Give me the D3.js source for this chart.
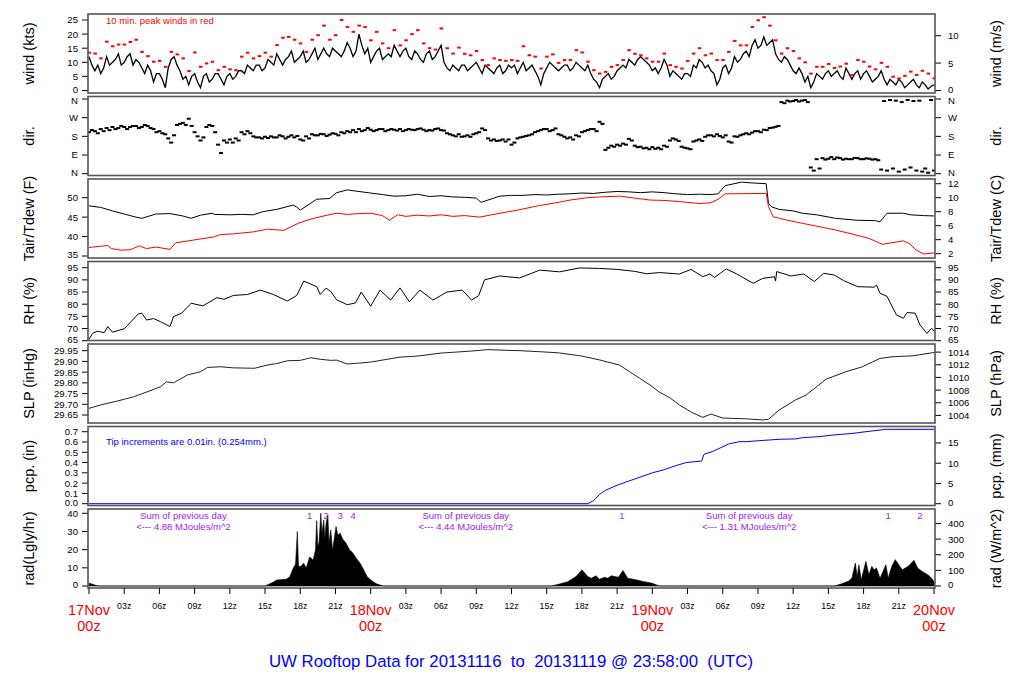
<!DOCTYPE html>
<html><head><meta charset="utf-8">
<script src="https://cdn.jsdelivr.net/npm/d3@7"></script>
<style>body{margin:0;background:#fff} text{font-family:"Liberation Sans",Arial,Helvetica,sans-serif}</style>
</head><body><svg id="c" width="1024" height="700"></svg>
<script>
// ---------- DATA (hours since 17Nov 00z) ----------
const windStep = 0.5; // hours between wind / direction samples
const windKts = [12,7,6,12,10,13,10,13,11,8, 9,3,6,1,11,9,4,2,6,1, 6,4,6,2,6,5,7,9,7,9, 8,10,13,9,12,10,12,10,13,11, 15,12,14,12,17,12,20,13,10,
 14,11,13,16,12,15,11,13,10,14, 12,16,8,9,7,9,8,10,6,8, 6,9,7,8,6,10,8,7,2,8, 9,7,9,7,10,8,9,4,1,5, 4,7,9,11,9,12,10,7,
 6,11,5,6,4,6,9,11,8,7, 2,8,6,12,11,14,16,15,19,17, 13,10,11,7,8,3,1,6,4,7, 6,5,8,4,7,6,5,4,7,2, 3,4,1,3,2,3,0.5,2];
// wind samples in between (at +15 min)
const windKtsMid = [9,9,8,9,11,9,12,9,10,6, 7,6,4,8,12,7,5,5,3,5, 3,6,4,5,4,7,6,8,9,7, 11,9,11,11,14,11,14,11,15,13, 13,15,13,14,15,14,16,15,
 12,15,12,12,14,14,12,14,11,13, 11,14,10,7,8,9,7,9,8,9, 7,8,6,9,9,8,7,9,5,6, 10,8,8,9,8,9,7,6,3,4, 6,5,8,8,10,11,11,9,
 8,8,9,7,5,6,5,8,10,9,6, 4,9,8,10,13,12,18,16,16,18, 11,12,9,6,6,5,3,5,6,5, 7,4,6,6,4,7,3,5,4,4, 2,3,2,4,1,2,1.5];
const peakKts = [13.4,13.1,11.4,17.3,15.7,16.3,16.3,17.2,18,13.7, 12.2,10.2,10.5,8.4,13.7,12.8,11.4,6.9,13.5,8.4, 9.6,10.2,7.2,8.4,7.5,7.2,12,13.4,11.4,12.2, 13.4,12,16.1,18.7,19,18,16.7,13.7,18,19.6, 23,18,19.6,25,22.5,20.8,23,22.5,17.8,
 20.8,16.7,15,21.4,16,17.8,20,21.4,16.7,15, 14.5,22,15,13.1,15.2,13,12.5,14,10.8,9, 11.4,10.8,10.5,10.8,10.5,15.7,12.5,12,7.8,12, 12.8,9.8,10.8,10.8,14.3,13.5,10.2,7.2,6,6.6, 8.4,9,10.8,14.3,13,12.5,11.4,10.2,
 10.2,13.1,9,8.4,7.8,10.5,13.1,15,12.5,13.1, 10.8,10.8,13.7,17.6,16,16,22.5,24.9,26,23, 17.8,13.1,15,14,11.4,10,6,8.4,8.4,9.4, 8,8.5,9.5,5.5,10.8,10.2,8.5,7.5,9.8,8.4, 4.9,4.3,5.2,6.7,5.5,7,6,4.3];
const dirA = [200,205,215,220,225,220,225,225,230,225, 230,215,205,190,150,235,245,265,200,160, 225,230,140,160,165,170,200,205,180,175, 178,180,175,180,178,175,165,180,190,185, 190,188,192,200,205,210,215,210,212,
 210,215,210,212,215,210,212,215,212,210, 215,210,195,185,190,180,178,195,218,170, 165,160,155,140,170,178,185,200,210,215, 210,190,178,175,185,200,210,215,250,115, 135,140,145,168,135,130,125,128,
 125,135,160,165,130,122,155,165,178,185, 190,175,155,180,185,195,198,205,212,220, 226,345,352,350,348,355,30,70,75,72, 70,75,72,70,75,70,72,70,20,15, 25,10,20,30,15,10,5,15];
const dirB = [210,195,205,210,215,230,215,230,220,235, 220,200,195,170,185,240,235,230,180,175, 235,200,100,150,150,160,190,195,175,170, 172,175,185,170,185,182,160,170,185,192, 182,195,185,195,200,200,205,220,205,
 215,205,215,208,205,215,210,218,205,208, 218,208,190,180,178,185,190,200,210,160, 158,165,165,150,175,182,190,205,215,205, 218,185,170,165,180,205,215,205,240,125, 130,135,140,160,128,122,118,120,
 118,130,170,158,125,118,160,158,185,180, 182,185,150,178,190,190,205,200,210,222, 230,340,348,355,352,345,15,25,68,80, 78,68,70,76,70,74,68,65,350,355, 352,345,355,350,352,25,355,350];

const tairTimes = [0,1,2,3,4,4.5,5.7,6.9,8,8.7,9.5,10.5,10.7,12,13,14,14.8,16,17.4,17.7,18,18.8,19.4,20.5,21.1,22,23,24,25,26,27,28,29,30,31,32,33,33.4,34,35,36,37,38,39,40,41,42,43,44,45,46,47,48,49,50,51,52,53,53.6,54.2,55.6,56.5,57.7,57.9,58.2,58.8,60,60.8,62,63.6,65.4,67,67.4,68,69.4,70,71.1,72];
const tairF = [47.9,47.5,46.6,45.8,45.0,44.7,45.8,45.9,45.3,44.7,45.5,46.0,45.7,45.6,45.7,45.6,46.4,47.0,48.1,47.6,46.8,48.4,49.6,49.8,51.3,52,51.6,51.2,50.8,50.4,50.5,50.9,50.3,50.5,50.2,50.1,49.9,48.8,49.4,50.4,50.6,50.6,50.8,50.7,50.9,51.0,51.2,51.1,51.4,51.6,51.5,51.3,51.5,51.3,51.0,50.8,50.9,50.8,51.0,53.1,54.0,53.8,53.6,48.5,47.6,47.0,46.6,46.0,45.6,44.7,44.2,44.1,43.8,46.0,46.0,45.6,45.4,45.3];
const tdewTimes = [0,1,1.6,1.9,2.7,3.5,4.3,4.9,5.7,6.9,7.4,8.9,10.6,11.2,12.3,14,15.2,16.6,17.8,18.9,20.3,21.1,22,23,24,25,25.6,26.3,27,28,29,30,31,32,33.3,35,36.5,38.4,40,41,42.5,43.5,45.2,46.5,47.8,49,50.3,52,53,53.6,54.2,57.7,57.9,58.3,59.5,60.8,62.3,63.6,65.1,66.5,67.6,69.4,69.9,70.5,71.1,72];
const tdewF = [37.2,37.5,37.7,36.9,36.5,36.6,37.6,36.9,37.3,36.7,38.4,39.1,39.9,40.5,40.7,41.2,41.9,41.6,43.4,44.5,45.5,46,45.7,45.9,46.0,45.4,44.2,45.6,45.2,45.5,45.3,45.6,45.2,45.4,45.0,46.0,46.8,48.0,48.8,49.4,50.0,50.2,50.4,49.9,49.4,49.3,49.0,48.5,48.7,49.6,51.0,51.1,47.7,45.1,44.2,43.4,42.5,41.7,40.6,39.5,38.0,38.9,38.2,36.5,35.5,35.8];

const rhTimes = [0,0.3,0.7,1.3,1.6,2,3,3.3,4.2,4.5,4.9,5.5,6.1,6.9,7.2,7.9,8.7,9.7,10.9,11.5,12.3,13.5,14.6,15.7,16.9,17.7,18.3,19.4,19.7,20.2,20.6,21.1,22,22.7,23.2,24,24.8,25.7,26.5,27.3,28.2,29.3,30.5,31.8,32.6,33.2,33.7,35,36.7,38.4,40.1,41.8,43.5,45,46.5,47.5,48.6,50.3,51.3,52.3,52.9,53.3,54.3,55.2,55.7,56.6,57.4,58.4,58.5,58.6,59.8,60.9,61.8,62.6,63.5,64.3,65.5,66.9,67.1,67.4,68,68.8,69.4,69.7,70.4,70.8,71.4,71.8,72];
const rhPct = [65.6,68,68.9,68.3,70.8,68.5,69.9,71.4,76,76.3,73.5,74.1,72.8,70.8,74.9,76.3,80.4,79.3,82.7,82,83.6,84,85.8,84,81.3,83.6,89.5,87.2,84,86.6,85.2,81.8,79.8,80.5,85,79.2,85.8,81.7,86.7,81,85.8,81.7,85,85.8,81.7,83.5,90,91.6,90.8,94,93.3,94.9,94.7,94.3,93.5,92.5,93,92.4,94.3,91.3,92.4,91,94.5,92.4,91,88.6,90.6,91.3,89.5,93.4,91.6,92.4,89.3,92.7,92,89.7,87.2,87,87.9,84.5,83.2,75.6,74.2,76.6,76.3,71.5,68,70.1,69];

const slpTimes = [0,1,2.4,3.8,5.2,6.1,6.6,7.2,8.4,9.5,10.1,11.2,12.3,14.1,15.2,16,16.9,18,18.9,19.7,20.6,21.1,22,23,24,26.5,28,30,32.5,34,35.5,36.7,38.5,40,42,43.5,45.2,46.9,47.8,48.6,49.5,50.3,51.4,52.3,53,54,56,57.4,57.9,58.8,60.2,61.1,62.8,64.5,65.9,67.4,68.5,70.2,71.9,72];
const slpInHg = [29.681,29.697,29.715,29.735,29.763,29.782,29.805,29.800,29.837,29.852,29.872,29.875,29.870,29.868,29.883,29.890,29.903,29.905,29.917,29.910,29.905,29.906,29.888,29.892,29.897,29.920,29.925,29.939,29.948,29.955,29.952,29.950,29.945,29.940,29.925,29.907,29.883,29.822,29.790,29.757,29.730,29.697,29.661,29.639,29.654,29.636,29.632,29.627,29.630,29.673,29.720,29.743,29.817,29.852,29.875,29.914,29.922,29.926,29.941,29.942];

const pcpTimes = [0,42.5,43,43.5,44,45,46,47,48,49,50,50.9,52.2,52.4,53.1,54.5,55.4,56,57,58.8,60.2,60.8,62.2,63.4,65.1,66.2,67.9,72];
const pcpIn = [0,0,0.03,0.09,0.13,0.18,0.22,0.26,0.30,0.33,0.37,0.40,0.415,0.48,0.506,0.58,0.603,0.603,0.612,0.626,0.63,0.642,0.652,0.668,0.684,0.70,0.723,0.723];

const radTimes = [0,0.3,0.6,0.9, 15.0,15.6,16.0,16.8,17.1,17.4,17.6,17.75,17.85,18.0,18.3,18.5,18.8,19.1,19.3,19.4,19.5,19.6,19.75,19.85,20.0,20.1,20.2,20.35,20.45,20.6,20.75,20.9,21.05,21.2,21.4,21.6,21.9,22.2,22.5,22.8,23.1,23.4,23.7,24.0,24.2,24.5,24.8,25.1,
 39.4,40.1,40.8,41.5,42.0,42.5,42.8,43.2,43.5,43.9,44.2,44.5,45.1,45.5,45.9,46.6,47.3,48.0,48.6,
 63.5,64.0,64.7,65.0,65.3,65.45,65.6,65.8,66.2,66.45,66.7,66.9,67.1,67.4,67.9,68.1,68.4,68.7,69.0,69.3,69.8,70.3,70.6,71.0,71.5,71.8,72];
const radLy = [1.5,1.0,0.3,0, 0,1.8,3.3,3.7,5,9.7,12,30,11,10.6,12.5,9.7,16,14.3,20,36,21.6,24,40,29,36.3,26,34.5,39,23.5,30.8,19.8,26,32.7,28,29,26,23.5,20,18,15,12.5,9,5.1,3.5,2.4,1.2,0.5,0,
 0,1.1,2.4,5.2,8.9,5.2,4.3,5.6,3.7,4.8,4.3,5.6,4.8,8.5,4.3,3.4,2.4,1.5,0,
 0,0.9,2.6,4.3,12.6,5.2,11.7,3.4,13.6,6.1,10.8,8.9,9.9,4.3,11.7,4.3,10.8,14.5,11.7,8.9,10.8,14.1,9.9,8,6.1,4.3,2.4];

const radMarkTimes = [18.8,20.2,21.4,22.5,45.4,68.1,70.8];
const radMarkText = ["1","2","3","4","1","1","2"];
const sumTimes = [8.05,32.1,56.25];
const sumLine1 = ["Sum of previous day","Sum of previous day","Sum of previous day"];
const sumLine2 = ["<--- 4.88 MJoules/m^2","<--- 4.44 MJoules/m^2","<--- 1.31 MJoules/m^2"];

const hourTicks = [0,3,6,9,12,15,18,21,24,27,30,33,36,39,42,45,48,51,54,57,60,63,66,69,72];
const hourLabels = ["03z","06z","09z","12z","15z","18z","21z"];
const dayTimes = [0,24,48,72];
const dayLabels = ["17Nov","18Nov","19Nov","20Nov"];
const titleText = "UW Rooftop Data for 20131116  to  20131119 @ 23:58:00  (UTC)";

const leftTitles = ["wind (kts)","dir.","Tair/Tdew (F)","RH (%)","SLP (inHg)","pcp. (in)","rad(Lgly/hr)"];
const rightTitles = ["wind (m/s)","dir.","Tair/Tdew (C)","RH (%)","SLP (hPa)","pcp. (mm)","rad (W/m^2)"];
const windTicks = [0,5,10,15,20,25], windMsTicks = [0,5,10];
const dirTicks = [0,90,180,270,360], dirTickLabels = ["N","E","S","W","N"];
const tempFTicks = [35,40,45,50], tempCTicks = [2,4,6,8,10,12];
const rhTicks = [65,70,75,80,85,90,95];
const slpTicks = [29.65,29.70,29.75,29.80,29.85,29.90,29.95], hpaTicks = [1004,1006,1008,1010,1012,1014];
const pcpTicks = [0,0.1,0.2,0.3,0.4,0.5,0.6,0.7], mmTicks = [0,5,10,15];
const radTicks = [0,10,20,30,40], wm2Ticks = [0,100,200,300,400];

// ---------- DRAW ----------
const svg = d3.select("#c");
const L = 88, R = 935;
const x = d3.scaleLinear().domain([0,72]).range([89,934]);
const tops = [14,96.5,179,261.5,344,426.5,509];
const H = 79;

const panels = [
 {y:d3.scaleLinear().domain([0,25]).range([90.5,20]), lt:windTicks, lf:d3.format("d"), rt:windMsTicks.map(v=>({v:v*1.943844,l:String(v)}))},
 {y:d3.scaleLinear().domain([0,360]).range([173.7,99]), lt:dirTicks, lf:(v,i)=>dirTickLabels[i], rt:dirTicks.map((v,i)=>({v,l:dirTickLabels[i]}))},
 {y:d3.scaleLinear().domain([35,50]).range([256,197.7]), lt:tempFTicks, lf:d3.format("d"), rt:tempCTicks.map(c=>({v:c*9/5+32,l:String(c)}))},
 {y:d3.scaleLinear().domain([65,95]).range([340.7,267.7]), lt:rhTicks, lf:d3.format("d"), rt:rhTicks.map(v=>({v,l:String(v)}))},
 {y:d3.scaleLinear().domain([29.65,29.95]).range([415,350.7]), lt:slpTicks, lf:d3.format(".2f"), rt:hpaTicks.map(h=>({v:h/33.8639,l:String(h)}))},
 {y:d3.scaleLinear().domain([0,0.7]).range([503.7,431.7]), lt:pcpTicks, lf:d3.format(".1f"), rt:mmTicks.map(m=>({v:m/25.4,l:String(m)}))},
 {y:d3.scaleLinear().domain([0,40]).range([586,513.3]), lt:radTicks, lf:d3.format("d"), rt:wm2Ticks.map(w=>({v:w/11.622,l:String(w)}))}
];

const defs = svg.append("defs");
panels.forEach((p,i)=>{
  defs.append("clipPath").attr("id","cp"+i).append("rect").attr("x",L).attr("y",tops[i]).attr("width",R-L).attr("height",H);
  p.g = svg.append("g").attr("clip-path",`url(#cp${i})`);
});

// nudge for tick labels that sit right at a panel edge (avoid collisions between stacked panels)
function labelNudge(i,yy){
  if (yy > tops[i]+H-4) return -1.2;
  if (yy < tops[i]+4) return 1.2;
  return 0;
}

// axes
panels.forEach((p,i)=>{
  const g = svg.append("g").attr("font-size",9.6).attr("fill","#000");
  p.lt.forEach((v,j)=>{
    const yy = p.y(v);
    g.append("line").attr("x1",L-6).attr("x2",L).attr("y1",yy).attr("y2",yy).attr("stroke","#000");
    g.append("text").attr("x",78).attr("y",yy+labelNudge(i,yy)).attr("dy","0.36em").attr("text-anchor","end").text(p.lf(v,j));
  });
  p.rt.forEach(o=>{
    const yy = p.y(o.v);
    g.append("line").attr("x1",R).attr("x2",R+6).attr("y1",yy).attr("y2",yy).attr("stroke","#000");
    g.append("text").attr("x",948).attr("y",yy+labelNudge(i,yy)).attr("dy","0.36em").attr("text-anchor","start").text(o.l);
  });
  const mid = tops[i]+H/2;
  svg.append("text").attr("transform",`translate(29,${mid}) rotate(-90)`).attr("text-anchor","middle").attr("dy","0.35em").attr("font-size",14.5).text(leftTitles[i]);
  svg.append("text").attr("transform",`translate(996,${mid}) rotate(-90)`).attr("text-anchor","middle").attr("dy","0.35em").attr("font-size",14.5).text(rightTitles[i]);
});

// panel 0: wind (main + in-between samples merged in time order)
const P0 = panels[0];
const windSeries = [];
windKts.forEach((v,i)=>{ windSeries.push([i*windStep,v]); if(i<windKtsMid.length) windSeries.push([i*windStep+windStep/2, windKtsMid[i]]); });
P0.g.append("path").datum(windSeries).attr("fill","none").attr("stroke","#000").attr("stroke-width",1.3)
  .attr("d",d3.line().x(d=>x(d[0])).y(d=>P0.y(d[1])));
P0.g.selectAll("rect.pk").data(peakKts).join("rect").attr("x",(d,i)=>x(i*windStep)-1.5).attr("y",d=>P0.y(d)-1).attr("width",3.5).attr("height",2).attr("fill","#ff0000");
svg.append("text").attr("x",106).attr("y",23.5).attr("font-size",9.5).attr("fill","#ff0000").text("10 min. peak winds in red");

// panel 1: direction
const P1 = panels[1];
P1.g.selectAll("rect.da").data(dirA).join("rect").attr("x",(d,i)=>x(i*windStep)-2).attr("y",d=>P1.y(d)-1).attr("width",4).attr("height",2).attr("fill","#000");
P1.g.selectAll("rect.db").data(dirB).join("rect").attr("x",(d,i)=>x(i*windStep+0.25)-2).attr("y",d=>P1.y(d)-1).attr("width",4).attr("height",2).attr("fill","#000");

// panel 2: temps
const P2 = panels[2];
P2.g.append("path").datum(tairF).attr("fill","none").attr("stroke","#000").attr("stroke-width",1)
  .attr("d",d3.line().x((d,i)=>x(tairTimes[i])).y(d=>P2.y(d)));
P2.g.append("path").datum(tdewF).attr("fill","none").attr("stroke","#ff0000").attr("stroke-width",1)
  .attr("d",d3.line().x((d,i)=>x(tdewTimes[i])).y(d=>P2.y(d)));

// panel 3: RH
const P3 = panels[3];
P3.g.append("path").datum(rhPct).attr("fill","none").attr("stroke","#000").attr("stroke-width",1)
  .attr("d",d3.line().x((d,i)=>x(rhTimes[i])).y(d=>P3.y(d)));

// panel 4: SLP
const P4 = panels[4];
P4.g.append("path").datum(slpInHg).attr("fill","none").attr("stroke","#222").attr("stroke-width",1)
  .attr("d",d3.line().x((d,i)=>x(slpTimes[i])).y(d=>P4.y(d)));

// panel 5: precip
const P5 = panels[5];
P5.g.append("path").datum(pcpIn).attr("fill","none").attr("stroke","#0000ff").attr("stroke-width",1)
  .attr("d",d3.line().x((d,i)=>x(pcpTimes[i])).y(d=>P5.y(d)));
svg.append("text").attr("x",106).attr("y",445).attr("font-size",9.5).attr("fill","#0000ff").text("Tip increments are 0.01in. (0.254mm.)");

// panel 6: radiation
const P6 = panels[6];
P6.g.append("path").datum(radLy).attr("fill","#000").attr("stroke","#000").attr("stroke-width",0.6)
  .attr("d",d3.area().x((d,i)=>x(radTimes[i])).y0(P6.y(0)).y1(d=>P6.y(d)));
const purple = "#a020f0";
radMarkTimes.forEach((t,i)=>svg.append("text").attr("x",x(t)).attr("y",518.5).attr("text-anchor","middle").attr("font-size",9.5).attr("fill",purple).text(radMarkText[i]));
sumTimes.forEach((t,i)=>{
  svg.append("text").attr("x",x(t)).attr("y",518.5).attr("text-anchor","middle").attr("font-size",9.5).attr("fill",purple).text(sumLine1[i]);
  svg.append("text").attr("x",x(t)).attr("y",529.5).attr("text-anchor","middle").attr("font-size",9.5).attr("fill",purple).text(sumLine2[i]);
});

// frames
tops.forEach(t=>svg.append("rect").attr("x",L).attr("y",t).attr("width",R-L).attr("height",H).attr("fill","none").attr("stroke","#555").attr("stroke-width",1.6));

// x axis
const xb = tops[6]+H;
hourTicks.forEach(h=>svg.append("line").attr("x1",x(h)).attr("x2",x(h)).attr("y1",xb).attr("y2",xb+6).attr("stroke","#000"));
dayTimes.slice(0,3).forEach(d0=>hourLabels.forEach((lab,j)=>svg.append("text").attr("x",x(d0+3*(j+1))).attr("y",608.5).attr("text-anchor","middle").attr("font-size",8.8).text(lab)));
dayTimes.forEach((t,i)=>{
  svg.append("text").attr("x",x(t)).attr("y",614.5).attr("text-anchor","middle").attr("font-size",14.5).attr("fill","#ff0000").text(dayLabels[i]);
  svg.append("text").attr("x",x(t)).attr("y",630.7).attr("text-anchor","middle").attr("font-size",14.5).attr("fill","#ff0000").text("00z");
});
svg.append("text").attr("x",511).attr("y",666.5).attr("text-anchor","middle").attr("font-size",16.8).attr("fill","#0000ff").attr("xml:space","preserve").style("white-space","pre").text(titleText);
</script></body></html>
